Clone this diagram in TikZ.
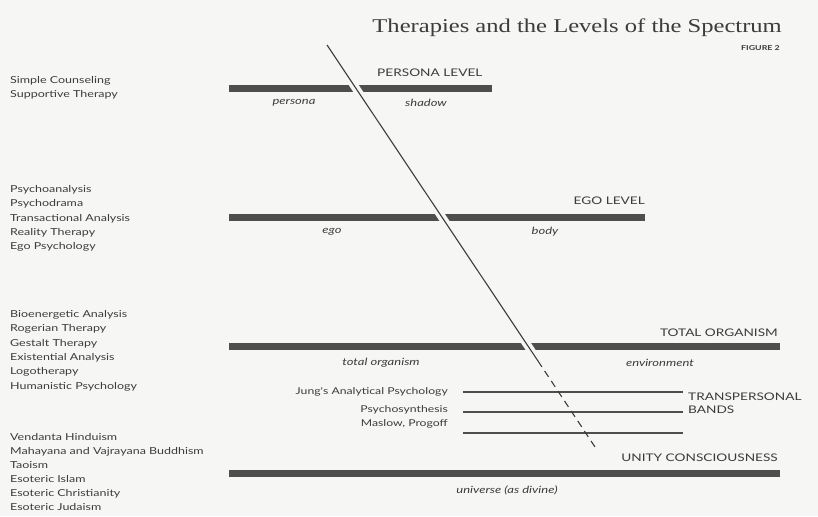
\documentclass[tikz,border=0pt]{standalone}
\usepackage{fontspec}
\usetikzlibrary{calc}
\setmainfont{Liberation Serif}
\newfontfamily\labfont[FakeStretch=1.3]{Lato}
\newfontfamily\titlefont[FakeStretch=1.26]{Liberation Serif}
\definecolor{bgc}{HTML}{F6F6F4}
\definecolor{barc}{HTML}{4E4E4E}
\definecolor{txt}{HTML}{3C3C3C}
\begin{document}
\begin{tikzpicture}[x=1pt,y=-1pt,
  bar/.style={line width=7pt, draw=barc},
  band/.style={line width=2.6pt, draw=barc},
  halo/.style={line width=8.3pt, draw=bgc},
  diag/.style={line width=1.1pt, draw=txt},
  lst/.style={font=\labfont\fontsize{9.6}{14.4}\selectfont, text=txt, anchor=north west, inner sep=0pt, align=left},
  lvl/.style={font=\labfont\fontsize{10.5}{12}\selectfont, text=txt, inner sep=0pt},
  itl/.style={font=\labfont\itshape\fontsize{10}{12}\selectfont, text=txt, inner sep=0pt},
  bl/.style={font=\labfont\fontsize{9.4}{12}\selectfont, text=txt, inner sep=0pt, anchor=east},
]
\useasboundingbox (0,0) rectangle (818,516);
\fill[bgc] (0,0) rectangle (818,516);

% title
\node[font=\titlefont\fontsize{19.5}{22}\selectfont, text=txt, anchor=base east, inner sep=0pt] (title) at (782,33) {Therapies and the Levels of the Spectrum};
\node[font=\labfont\bfseries\fontsize{6.8}{8}\selectfont, text=txt, anchor=east, inner sep=0pt] (fig) at (780,48) {FIGURE 2};

% left lists
\node[lst] (l1) at (10,76) {Simple Counseling\\Supportive Therapy};
\node[lst] (l2) at (10,185) {Psychoanalysis\\Psychodrama\\Transactional Analysis\\Reality Therapy\\Ego Psychology};
\node[lst] (l3) at (10,310) {Bioenergetic Analysis\\Rogerian Therapy\\Gestalt Therapy\\Existential Analysis\\Logotherapy\\Humanistic Psychology};
\node[lst, font=\labfont\fontsize{9.6}{14.1}\selectfont] (l4) at (10,433) {Vendanta Hinduism\\Mahayana and Vajrayana Buddhism\\Taoism\\Esoteric Islam\\Esoteric Christianity\\Esoteric Judaism};

% coordinates
\coordinate (d0) at (327,45);
\coordinate (d1) at (538,361);
\coordinate (d2) at (597,450);
\coordinate (pa) at (229,89); \coordinate (pb) at (492,89);
\coordinate (ea) at (229,217); \coordinate (eb) at (645,217);
\coordinate (ta) at (229,346); \coordinate (tb) at (780,346);
\coordinate (ua) at (229,473); \coordinate (ub) at (780,473);
\coordinate (b1a) at (463,392); \coordinate (b1b) at (683,392);
\coordinate (b2a) at (463,412); \coordinate (b2b) at (683,412);
\coordinate (b3a) at (463,433); \coordinate (b3b) at (683,433);

% bars
\draw[bar] (pa) -- (pb);
\draw[bar] (ea) -- (eb);
\draw[bar] (ta) -- (tb);
\draw[bar] (ua) -- (ub);
\draw[band] (b1a) -- (b1b);
\draw[band] (b2a) -- (b2b);
\draw[band] (b3a) -- (b3b);

% diagonal
\draw[halo] ($(d0)!0.08!(d1)$) -- (d1);
\draw[diag] (d0) -- (d1);
\draw[diag, dash pattern=on 7pt off 5pt] (d1) -- (d2);

% level labels
\node[lvl, anchor=west] (pl) at (377,73) {PERSONA LEVEL};
\node[lvl, anchor=east] (el) at (645,201) {EGO LEVEL};
\node[lvl, anchor=east] (tl) at (778,333) {TOTAL ORGANISM};
\node[lvl, anchor=west, align=left] (tp) at (688,403) {TRANSPERSONAL\\[1pt]BANDS};
\node[lvl, anchor=east] (ul) at (778,458) {UNITY CONSCIOUSNESS};

% italic sub labels
\node[itl] (s1) at (294,103) {persona};
\node[itl] (s2) at (426,103) {shadow};
\node[itl] (s3) at (332,232) {ego};
\node[itl] (s4) at (545,232) {body};
\node[itl] (s5) at (381,363) {total organism};
\node[itl] (s6) at (660,363) {environment};
\node[itl] (s7) at (507,490) {universe (as divine)};

% band labels
\node[bl] (j1) at (448,392) {Jung's Analytical Psychology};
\node[bl] (j2) at (448,410) {Psychosynthesis};
\node[bl] (j3) at (448,424) {Maslow, Progoff};
\end{tikzpicture}
\end{document}
